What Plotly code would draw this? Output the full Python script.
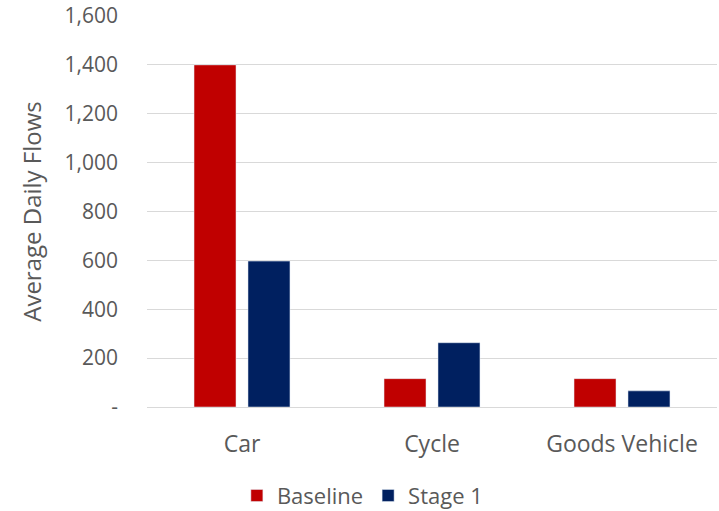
import plotly.graph_objects as go

categories = ["Car", "Cycle", "Goods Vehicle"]
baseline = [1400, 116, 116]
stage1 = [597, 263, 66]
tick_values = [0, 200, 400, 600, 800, 1000, 1200, 1400, 1600]
tick_labels = ["-", "200", "400", "600", "800", "1,000", "1,200", "1,400", "1,600"]

grey = "#595959"
font_family = "Open Sans, Noto Sans, sans-serif"

fig = go.Figure()
fig.add_trace(go.Bar(name="Baseline", x=categories, y=baseline, marker_color="#C00000"))
fig.add_trace(go.Bar(name="Stage 1", x=categories, y=stage1, marker_color="#002060"))

fig.update_layout(
    width=719,
    height=511,
    barmode="group",
    bargap=0.432,
    bargroupgap=0.222,
    plot_bgcolor="white",
    paper_bgcolor="white",
    font=dict(family=font_family, size=21, color=grey),
    margin=dict(l=147, r=2, t=16, b=104, autoexpand=False),
    legend=dict(
        orientation="h",
        xref="container",
        yref="container",
        x=0.504,
        xanchor="center",
        y=0.03,
        yanchor="middle",
        font=dict(size=22, color=grey),
        itemwidth=30,
        traceorder="normal",
    ),
)

fig.update_yaxes(
    range=[0, 1600],
    tickvals=tick_values,
    ticktext=tick_labels,
    tickfont=dict(size=21),
    showgrid=True,
    gridcolor="#d9d9d9",
    gridwidth=1.3,
    zeroline=True,
    zerolinecolor="#d9d9d9",
    zerolinewidth=1.3,
    showline=False,
    ticklabelstandoff=28,
    title=dict(text="Average Daily Flows", font=dict(size=24, color=grey), standoff=16),
)
fig.update_xaxes(
    showgrid=False,
    showline=False,
    tickfont=dict(size=23),
    tickangle=0,
    ticklabelstandoff=21,
)

fig.write_html("out.html")
